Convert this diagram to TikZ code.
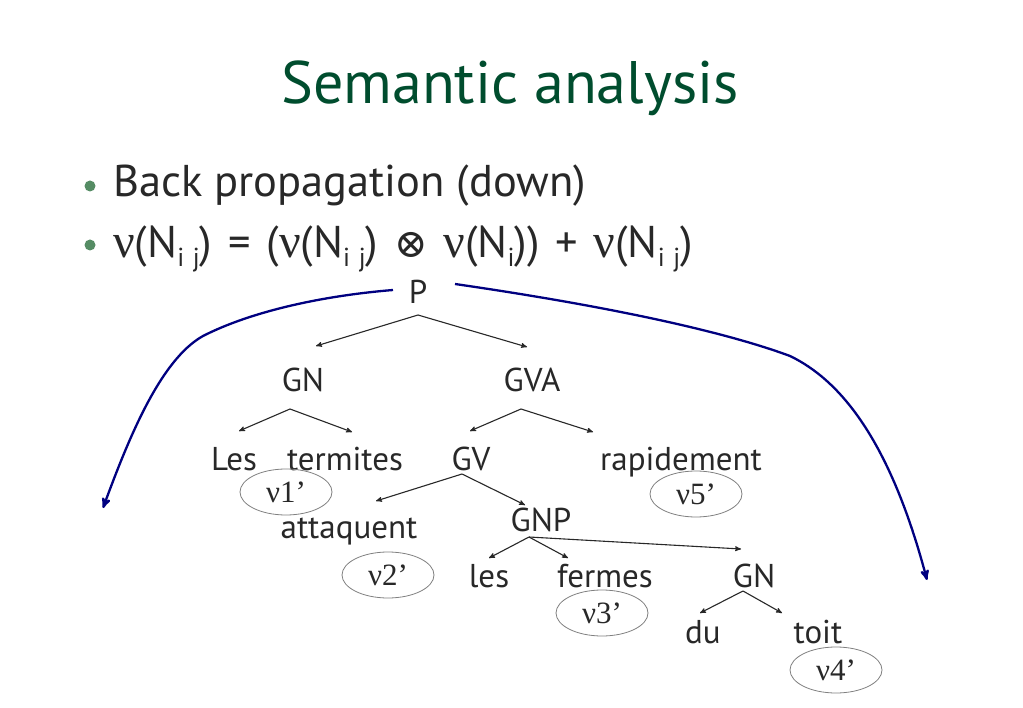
\documentclass[tikz,border=0pt]{standalone}
\usepackage{fontspec}
\setmainfont{PT Sans}
\newfontfamily\greekfont{Liberation Serif}
\newfontfamily\symfont{DejaVu Serif}
\usetikzlibrary{shapes.geometric, arrows}
\definecolor{titlegreen}{RGB}{0,77,46}
\definecolor{dotgreen}{RGB}{85,140,100}
\definecolor{inkgray}{RGB}{40,40,40}
\definecolor{backblue}{RGB}{0,0,128}
\newcommand{\nuu}{{\greekfont\fontsize{48}{48}\selectfont ν}}
\newcommand{\tensor}{{\symfont\fontsize{40}{40}\selectfont ⊗}}
\newcommand{\sub}[1]{\raisebox{-0.4ex}{\fontsize{26}{26}\selectfont #1}}
\newcommand{\opgap}{\hspace{4pt}}
\tikzset{
>=stealth', % small bold arrow heads
word/.style={anchor=base, text=inkgray, inner sep=0pt, font=\fontsize{33}{33}\selectfont}, % tree labels
vbox/.style={ellipse, draw=gray, line width=0.8pt, minimum width=92pt, minimum height=46pt, text=inkgray, font=\greekfont\fontsize{31}{31}\selectfont}, % value bubbles
edge/.style={->, draw=inkgray, line width=1.1pt},
back/.style={->, draw=backblue, line width=2.3pt},
dot/.style={circle, fill=dotgreen, minimum size=11pt, inner sep=0pt},
}
\begin{document}
\begin{tikzpicture}[x=1pt, y=-1pt]
    \useasboundingbox[fill=white] (0,0) rectangle (1023,708);
    % title and bullets
    \node[anchor=base, text=titlegreen, font=\fontsize{60}{60}\selectfont] (title) at (510,104) {Semantic analysis};
    \node[dot] (dot1) at (90,186) {};
    \node[anchor=base west, text=inkgray, inner sep=0pt, font=\fontsize{44.5}{44.5}\selectfont] (line1) at (113,197) {Back propagation (down)};
    \node[dot] (dot2) at (90,245) {};
    \node[anchor=base west, text=inkgray, inner sep=0pt, font=\fontsize{44.5}{44.5}\selectfont] (line2) at (113,258)
        {\nuu(N\sub{i\,\,j})\opgap{} =\opgap{} (\nuu(N\sub{i\,\,j})\opgap{} \tensor{}\opgap{} \nuu(N\sub{i}))\opgap{} +\opgap{} \nuu(N\sub{i\,\,j})};
    % tree
    \node[word] (P) at (418,304) {P};
    \node[word] (GN) at (303,392) {GN};
    \node[word] (GVA) at (532,392) {GVA};
    \node[word] (Les) at (234,470) {Les};
    \node[word] (termites) at (345,470) {termites};
    \node[word] (GV) at (471,470) {GV};
    \node[word] (rapidement) at (681,470) {rapidement};
    \node[word] (attaquent) at (349,538) {attaquent};
    \node[word] (GNP) at (541,531) {GNP};
    \node[word] (les) at (489,587) {les};
    \node[word] (fermes) at (605,587) {fermes};
    \node[word] (GNb) at (754,587) {GN};
    \node[word] (du) at (703,643) {du};
    \node[word] (toit) at (818,643) {toit};
    % values
    \node[vbox] (v1) at (286,492) {ν1’};
    \node[vbox] (v5) at (696,494) {ν5’};
    \node[vbox] (v2) at (388,575) {ν2’};
    \node[vbox] (v3) at (602,613) {ν3’};
    \node[vbox] (v4) at (836,670) {ν4’};
    % forks under each parent
    \coordinate (Pf) at ([yshift=-11pt]P.base);
    \coordinate (GNf) at ([shift={(-13pt,-17pt)}]GN.base);
    \coordinate (GVAf) at ([shift={(-11pt,-17pt)}]GVA.base);
    \coordinate (GVf) at ([shift={(-9pt,-4pt)}]GV.base);
    \coordinate (GNPf) at ([shift={(-12pt,-6pt)}]GNP.base);
    \coordinate (GNbf) at ([shift={(-11pt,-4pt)}]GNb.base);
    \draw[edge] (Pf) -- ([shift={(13pt,46pt)}]GN.base);
    \draw[edge] (Pf) -- ([shift={(-5pt,45pt)}]GVA.base);
    \draw[edge] (GNf) -- ([shift={(5pt,39pt)}]Les.base);
    \draw[edge] (GNf) -- ([shift={(7pt,38pt)}]termites.base);
    \draw[edge] (GVAf) -- ([shift={(-1pt,39pt)}]GV.base);
    \draw[edge] (GVAf) -- ([shift={(-88pt,38pt)}]rapidement.base);
    \draw[edge] (GVf) -- ([shift={(27pt,37pt)}]attaquent.base);
    \draw[edge] (GVf) -- ([shift={(-16pt,26pt)}]GNP.base);
    \draw[edge] (GNPf) -- ([shift={(0pt,29pt)}]les.base);
    \draw[edge] (GNPf) -- ([shift={(-37pt,29pt)}]fermes.base);
    \draw[edge] (GNPf) -- ([shift={(-13pt,38pt)}]GNb.base);
    \draw[edge] (GNbf) -- ([shift={(-3pt,30pt)}]du.base);
    \draw[edge] (GNbf) -- ([shift={(-36pt,30pt)}]toit.base);
    % back propagation arcs
    \coordinate (ls) at ([shift={(-25pt,14pt)}]P.base);
    \coordinate (lm) at (203,336);
    \coordinate (le) at (103,508);
    \coordinate (rs) at ([shift={(37pt,20pt)}]P.base);
    \coordinate (rm) at (790,356);
    \coordinate (re) at (927,580);
    \draw[back] (ls) .. controls (320,296) and (250,312) .. (lm) .. controls (160,360) and (128,440) .. (le);
    \draw[back] (rs) .. controls (600,305) and (720,330) .. (rm) .. controls (840,380) and (890,440) .. (re);
\end{tikzpicture}
\end{document}
